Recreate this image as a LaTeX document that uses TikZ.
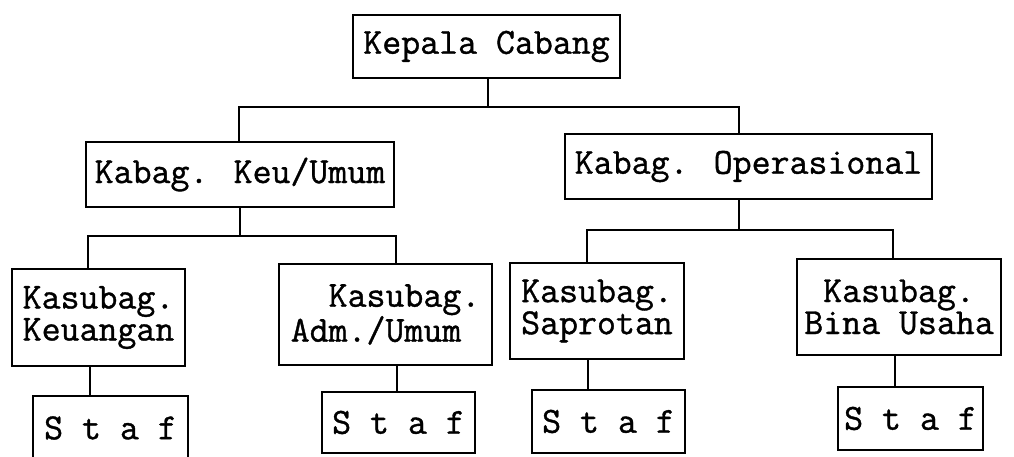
\documentclass[tikz,border=0pt]{standalone}
\usepackage{fontspec}
\newfontfamily\boxfont{Latin Modern Mono}[FakeBold=1]
\tikzset{
  box/.style={draw, line width=1.8pt, inner sep=0pt,
    font=\boxfont\fontsize{36.8}{32}\selectfont, align=center},
  wire/.style={line width=1.8pt}
}
\begin{document}
\begin{tikzpicture}[x=1pt,y=-1pt]
\useasboundingbox (0,0) rectangle (1014,457);
\fill[white] (0,0) rectangle (1014,457);
\clip (0,0) rectangle (1014,457);
% boxes
\node[box, minimum width=267pt, minimum height=63pt] (kep) at (486.5,46.5) {Kepala Cabang};
\node[box, minimum width=308pt, minimum height=65pt] (keu) at (240,174.5) {Kabag. Keu/Umum};
\node[box, minimum width=367pt, minimum height=65pt] (op) at (748.5,166.5) {Kabag. Operasional};
\node[box, minimum width=173pt, minimum height=97pt] (kua) at (98.5,317.5) {Kasubag.\\Keuangan};
\node[box, minimum width=213pt, minimum height=101pt, align=left] (adm) at (385.5,314.5) {\phantom{Ka}Kasubag.\\Adm./Umum};
\node[box, minimum width=174pt, minimum height=96pt] (sap) at (597,311) {Kasubag.\\Saprotan};
\node[box, minimum width=204pt, minimum height=96pt] (bina) at (899,307) {Kasubag.\\Bina Usaha};
\node[box, minimum width=155pt, minimum height=64pt] (st1) at (110.5,428) {S t a f};
\node[box, minimum width=153pt, minimum height=61pt] (st2) at (398.5,422.5) {S t a f};
\node[box, minimum width=153pt, minimum height=63pt] (st3) at (608.5,421.5) {S t a f};
\node[box, minimum width=145pt, minimum height=63pt] (st4) at (910.5,418.5) {S t a f};
% junctions
\coordinate (j0) at (488,107);
\coordinate (jL) at (239,107);
\coordinate (jR) at (739,107);
\coordinate (kC) at (240,236);
\coordinate (kL) at (88,236);
\coordinate (kR) at (396,236);
\coordinate (oC) at (739,230);
\coordinate (oL) at (587,230);
\coordinate (oR) at (893,230);
\coordinate (s1) at (90,0);
\coordinate (s2) at (397,0);
\coordinate (s3) at (588,0);
\coordinate (s4) at (895,0);
% connectors
\draw[wire] (kep.south -| j0) -- (j0);
\draw[wire] (keu.north -| jL) -- (jL) -- (jR) -- (op.north -| jR);
\draw[wire] (keu.south -| kC) -- (kC);
\draw[wire] (kua.north -| kL) -- (kL) -- (kR) -- (adm.north -| kR);
\draw[wire] (op.south -| oC) -- (oC);
\draw[wire] (sap.north -| oL) -- (oL) -- (oR) -- (bina.north -| oR);
\draw[wire] (kua.south -| s1) -- (st1.north -| s1);
\draw[wire] (adm.south -| s2) -- (st2.north -| s2);
\draw[wire] (sap.south -| s3) -- (st3.north -| s3);
\draw[wire] (bina.south -| s4) -- (st4.north -| s4);
\end{tikzpicture}
\end{document}
